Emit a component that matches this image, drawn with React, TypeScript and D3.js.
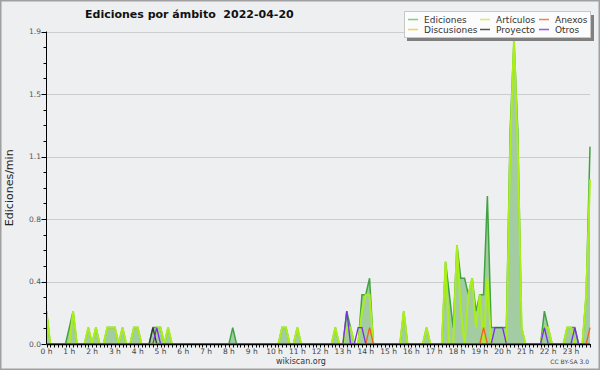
import { useEffect, useRef } from "react";
import * as d3 from "d3";

// 10-minute buckets, 144 per day (edits per minute)
const EDICIONES = [
  0.2, 0, 0, 0, 0, 0, 0.1, 0.2, 0, 0, 0, 0.1,
  0, 0.1, 0, 0, 0.1, 0.1, 0.1, 0, 0.1, 0, 0, 0.1,
  0.1, 0, 0, 0, 0.1, 0.1, 0.1, 0, 0.1, 0, 0, 0,
  0, 0, 0, 0, 0, 0, 0, 0, 0, 0, 0, 0,
  0, 0.1, 0, 0, 0, 0, 0, 0, 0, 0, 0, 0,
  0, 0, 0.1, 0.1, 0, 0, 0.1, 0, 0, 0, 0, 0,
  0, 0, 0, 0, 0.1, 0, 0, 0.2, 0.1, 0, 0, 0.3,
  0.3, 0.4, 0, 0, 0, 0, 0, 0, 0, 0, 0.2, 0,
  0, 0, 0, 0, 0.1, 0, 0, 0, 0, 0.5, 0.3, 0.1,
  0.6, 0.4, 0.4, 0.3, 0.4, 0.2, 0.3, 0.3, 0.9, 0.1, 0.1, 0.1,
  0.1, 0.1, 1.3, 1.85, 1.3, 0.1, 0, 0, 0, 0, 0, 0.2,
  0.1, 0, 0, 0, 0, 0.1, 0.1, 0.1, 0, 0, 0.3, 1.2,
];

const ARTICULOS = [
  0.2, 0, 0, 0, 0, 0, 0, 0.2, 0, 0, 0, 0.1,
  0, 0.1, 0, 0, 0.1, 0.1, 0.1, 0, 0.1, 0, 0, 0.1,
  0.1, 0, 0, 0, 0, 0.1, 0.1, 0, 0.1, 0, 0, 0,
  0, 0, 0, 0, 0, 0, 0, 0, 0, 0, 0, 0,
  0, 0, 0, 0, 0, 0, 0, 0, 0, 0, 0, 0,
  0, 0, 0.1, 0.1, 0, 0, 0.1, 0, 0, 0, 0, 0,
  0, 0, 0, 0, 0.1, 0, 0, 0.1, 0.1, 0, 0, 0.2,
  0.3, 0.3, 0, 0, 0, 0, 0, 0, 0, 0, 0.2, 0,
  0, 0, 0, 0, 0.1, 0, 0, 0, 0, 0.5, 0, 0,
  0.6, 0.2, 0, 0.3, 0.4, 0.1, 0.3, 0, 0.4, 0, 0, 0,
  0, 0, 1.2, 1.85, 1.2, 0.1, 0, 0, 0, 0, 0, 0.1,
  0.1, 0, 0, 0, 0, 0.1, 0.1, 0, 0, 0, 0.3, 1.0,
];

const PROYECTO = [
  0, 0, 0, 0, 0, 0, 0, 0, 0, 0, 0, 0,
  0, 0, 0, 0, 0, 0, 0, 0, 0, 0, 0, 0,
  0, 0, 0, 0, 0.1, 0, 0, 0, 0, 0, 0, 0,
  0, 0, 0, 0, 0, 0, 0, 0, 0, 0, 0, 0,
  0, 0, 0, 0, 0, 0, 0, 0, 0, 0, 0, 0,
  0, 0, 0, 0, 0, 0, 0, 0, 0, 0, 0, 0,
  0, 0, 0, 0, 0, 0, 0, 0, 0, 0, 0, 0,
  0, 0, 0, 0, 0, 0, 0, 0, 0, 0, 0, 0,
  0, 0, 0, 0, 0, 0, 0, 0, 0, 0, 0, 0,
  0, 0, 0, 0, 0, 0, 0, 0, 0, 0, 0, 0,
  0, 0, 0, 0, 0, 0, 0, 0, 0, 0, 0, 0,
  0, 0, 0, 0, 0, 0, 0, 0, 0, 0, 0, 0,
];

const ANEXOS = [
  0, 0, 0, 0, 0, 0, 0, 0, 0, 0, 0, 0,
  0, 0, 0, 0, 0, 0, 0, 0, 0, 0, 0, 0,
  0, 0, 0, 0, 0, 0, 0, 0, 0, 0, 0, 0,
  0, 0, 0, 0, 0, 0, 0, 0, 0, 0, 0, 0,
  0, 0, 0, 0, 0, 0, 0, 0, 0, 0, 0, 0,
  0, 0, 0, 0, 0, 0, 0, 0, 0, 0, 0, 0,
  0, 0, 0, 0, 0, 0, 0, 0, 0, 0, 0, 0,
  0, 0.1, 0, 0, 0, 0, 0, 0, 0, 0, 0, 0,
  0, 0, 0, 0, 0, 0, 0, 0, 0, 0, 0, 0,
  0, 0, 0, 0, 0, 0, 0, 0.1, 0, 0, 0, 0,
  0, 0, 0, 0, 0, 0, 0, 0, 0, 0, 0, 0,
  0, 0, 0, 0, 0, 0, 0, 0, 0, 0, 0, 0.1,
];

const OTROS = [
  0, 0, 0, 0, 0, 0, 0, 0, 0, 0, 0, 0,
  0, 0, 0, 0, 0, 0, 0, 0, 0, 0, 0, 0,
  0, 0, 0, 0, 0, 0.1, 0, 0, 0, 0, 0, 0,
  0, 0, 0, 0, 0, 0, 0, 0, 0, 0, 0, 0,
  0, 0, 0, 0, 0, 0, 0, 0, 0, 0, 0, 0,
  0, 0, 0, 0, 0, 0, 0, 0, 0, 0, 0, 0,
  0, 0, 0, 0, 0, 0, 0, 0.2, 0, 0, 0.1, 0.1,
  0, 0, 0, 0, 0, 0, 0, 0, 0, 0, 0, 0,
  0, 0, 0, 0, 0, 0, 0, 0, 0, 0, 0, 0,
  0, 0, 0, 0, 0, 0, 0, 0, 0, 0, 0.1, 0.1,
  0.1, 0, 0, 0, 0, 0, 0, 0, 0, 0, 0, 0.1,
  0, 0, 0, 0, 0, 0, 0, 0.1, 0, 0, 0, 0,
];

const HOUR_LABELS = [
  "0 h", "1 h", "2 h", "3 h", "4 h", "5 h", "6 h", "7 h", "8 h", "9 h", "10 h", "11 h",
  "12 h", "13 h", "14 h", "15 h", "16 h", "17 h", "18 h", "19 h", "20 h", "21 h", "22 h", "23 h",
];

const Y_TICKS = [0, 0.38, 0.76, 1.14, 1.52, 1.9];

const LEGEND = [
  { name: "Ediciones", color: "#7fcf7f" },
  { name: "Discusiones", color: "#f7d34a" },
  { name: "Artículos", color: "#cdf25a" },
  { name: "Proyecto", color: "#555555" },
  { name: "Anexos", color: "#f58050" },
  { name: "Otros", color: "#9a55ee" },
];

const FONT = "DejaVu Sans, sans-serif";

const App = () => {
  const svgRef = useRef<SVGSVGElement>(null);

  useEffect(() => {
    if (!svgRef.current) return;
    const width = 600;
    const height = 370;
    const plot = { left: 46.5, right: 590, top: 31.5, bottom: 344 };

    const svg = d3.select(svgRef.current);
    svg.selectAll("*").remove();
    svg.attr("width", width).attr("height", height);

    // background + frame
    svg.append("rect").attr("width", width).attr("height", height).attr("fill", "#eeeff1");
    svg
      .append("rect")
      .attr("x", 0.75)
      .attr("y", 0.75)
      .attr("width", width - 1.5)
      .attr("height", height - 1.5)
      .attr("fill", "none")
      .attr("stroke", "#a0a0a0")
      .attr("stroke-width", 1.5);

    const x = d3.scaleLinear().domain([0, EDICIONES.length - 1]).range([plot.left, plot.right]);
    const y = d3.scaleLinear().domain([0, 1.9]).range([plot.bottom, plot.top]);

    // gridlines
    svg
      .append("g")
      .selectAll("line")
      .data(Y_TICKS.slice(1))
      .join("line")
      .attr("x1", plot.left)
      .attr("x2", plot.right)
      .attr("y1", (d) => Math.round(y(d)) + 0.5)
      .attr("y2", (d) => Math.round(y(d)) + 0.5)
      .attr("stroke", "#cccccc");

    svg
      .append("clipPath")
      .attr("id", "plotclip")
      .append("rect")
      .attr("x", plot.left)
      .attr("y", 0)
      .attr("width", plot.right - plot.left + 2)
      .attr("height", plot.bottom - 0.5);

    const g = svg.append("g").attr("clip-path", "url(#plotclip)");

    const area = d3
      .area<number>()
      .x((_, i) => x(i))
      .y0(y(0))
      .y1((d) => y(d));
    const line = d3
      .line<number>()
      .x((_, i) => x(i))
      .y((d) => y(d));

    g.append("path").attr("d", area(EDICIONES)).attr("fill", "#a3cca3");
    g.append("path")
      .attr("d", line(EDICIONES))
      .attr("fill", "none")
      .attr("stroke", "#3fa43f")
      .attr("stroke-width", 1.5);
    g.append("path")
      .attr("d", line(ARTICULOS))
      .attr("fill", "none")
      .attr("stroke", "#aaee1a")
      .attr("stroke-width", 2);
    g.append("path")
      .attr("d", line(PROYECTO))
      .attr("fill", "none")
      .attr("stroke", "#333333")
      .attr("stroke-width", 1.3);
    g.append("path")
      .attr("d", line(ANEXOS))
      .attr("fill", "none")
      .attr("stroke", "#f0601e")
      .attr("stroke-width", 1.3);
    g.append("path")
      .attr("d", line(OTROS))
      .attr("fill", "none")
      .attr("stroke", "#7a2ee6")
      .attr("stroke-width", 1.3);

    // Y axis
    const yAxis = svg.append("g").attr("font-family", FONT);
    yAxis
      .append("line")
      .attr("x1", plot.left)
      .attr("x2", plot.left)
      .attr("y1", plot.top)
      .attr("y2", plot.bottom)
      .attr("stroke", "#000");
    const minor = d3.range(Y_TICKS.length - 1).flatMap((i) =>
      [0.25, 0.5, 0.75].map((f) => Y_TICKS[i] + f * (Y_TICKS[i + 1] - Y_TICKS[i]))
    );
    yAxis
      .selectAll(".minor")
      .data(minor)
      .join("line")
      .attr("x1", plot.left - 3)
      .attr("x2", plot.left)
      .attr("y1", (d) => Math.round(y(d)) + 0.5)
      .attr("y2", (d) => Math.round(y(d)) + 0.5)
      .attr("stroke", "#000");
    yAxis
      .selectAll(".major")
      .data(Y_TICKS)
      .join("line")
      .attr("x1", plot.left - 5)
      .attr("x2", plot.left)
      .attr("y1", (d) => Math.round(y(d)) + 0.5)
      .attr("y2", (d) => Math.round(y(d)) + 0.5)
      .attr("stroke", "#000");
    yAxis
      .selectAll("text")
      .data(Y_TICKS)
      .join("text")
      .attr("x", plot.left - 5.5)
      .attr("y", (d) => y(d) + 2.5)
      .attr("text-anchor", "end")
      .attr("font-size", 7.5)
      .attr("fill", "#555")
      .text((d) => d3.format(".1f")(d));

    svg
      .append("text")
      .attr("transform", `translate(13,${(plot.top + plot.bottom) / 2}) rotate(-90)`)
      .attr("text-anchor", "middle")
      .attr("font-family", FONT)
      .attr("font-size", 11)
      .attr("fill", "#222")
      .text("Ediciones/min");

    // X axis
    const xAxis = svg.append("g").attr("font-family", FONT);
    xAxis
      .selectAll(".tick")
      .data(d3.range(EDICIONES.length))
      .join("line")
      .attr("x1", (d) => Math.round(x(d)) + 0.5)
      .attr("x2", (d) => Math.round(x(d)) + 0.5)
      .attr("y1", plot.bottom)
      .attr("y2", plot.bottom + 3.5)
      .attr("stroke", "#000");
    xAxis
      .append("line")
      .attr("x1", plot.left)
      .attr("x2", plot.right)
      .attr("y1", plot.bottom + 0.5)
      .attr("y2", plot.bottom + 0.5)
      .attr("stroke", "#000")
      .attr("stroke-width", 1.5);
    xAxis
      .selectAll("text")
      .data(HOUR_LABELS)
      .join("text")
      .attr("x", (_, i) => x(i * 6))
      .attr("y", plot.bottom + 9.5)
      .attr("text-anchor", "middle")
      .attr("font-size", 7.5)
      .attr("fill", "#444")
      .text((d) => d);

    // title
    svg
      .append("text")
      .attr("x", 85)
      .attr("y", 18)
      .attr("font-family", FONT)
      .attr("font-weight", "bold")
      .attr("font-size", 11)
      .attr("fill", "#111")
      .attr("xml:space", "preserve")
      .style("white-space", "pre")
      .text("Ediciones por ámbito  2022-04-20");

    // footer
    svg
      .append("text")
      .attr("x", 301)
      .attr("y", 364)
      .attr("text-anchor", "middle")
      .attr("font-family", FONT)
      .attr("font-size", 8)
      .attr("fill", "#333")
      .text("wikiscan.org");
    svg
      .append("text")
      .attr("x", 589)
      .attr("y", 364)
      .attr("text-anchor", "end")
      .attr("font-family", FONT)
      .attr("font-size", 6)
      .attr("fill", "#444")
      .text("CC BY-SA 3.0");

    // legend
    const lg = svg.append("g").attr("font-family", FONT);
    lg.append("rect")
      .attr("x", 407)
      .attr("y", 15)
      .attr("width", 187)
      .attr("height", 26)
      .attr("fill", "#808080");
    lg.append("rect")
      .attr("x", 404.5)
      .attr("y", 11.5)
      .attr("width", 186)
      .attr("height", 26)
      .attr("fill", "#fcfcfc")
      .attr("stroke", "#c8c8c8");
    const colX = [408, 480, 539];
    LEGEND.forEach((item, i) => {
      const col = Math.floor(i / 2);
      const row = i % 2;
      const ly = 19.5 + row * 10;
      lg.append("line")
        .attr("x1", colX[col])
        .attr("x2", colX[col] + 10)
        .attr("y1", ly)
        .attr("y2", ly)
        .attr("stroke", item.color)
        .attr("stroke-width", 1.5);
      lg.append("text")
        .attr("x", colX[col] + 16)
        .attr("y", ly + 3)
        .attr("font-size", 9)
        .attr("fill", "#333")
        .text(item.name);
    });
  }, []);

  return (
    <div style={{ position: "absolute", left: 0, top: 0 }}>
      <svg ref={svgRef} style={{ display: "block" }} />
    </div>
  );
};

export default App;
